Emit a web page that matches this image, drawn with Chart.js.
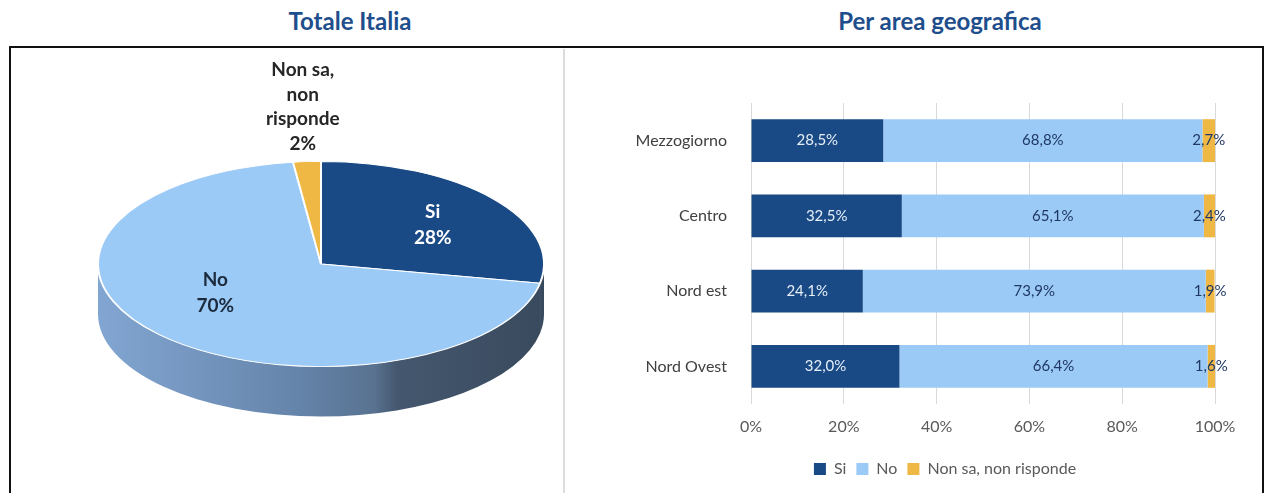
<!DOCTYPE html>
<html>
<head>
<meta charset="utf-8">
<script src="https://cdn.jsdelivr.net/npm/chart.js@4/dist/chart.umd.min.js"></script>
<style>
  body { margin: 0; background: #fff; font-family: Lato, sans-serif; }
  #page { position: relative; width: 1266px; height: 493px; overflow: hidden; }
  .title { position: absolute; top: 6px; width: 300px; text-align: center; font-weight: bold; font-size: 24px; color: #1f4e8c; }
  #frame { position: absolute; left: 9px; top: 46px; width: 1251px; height: 470px; border: 2px solid #111; }
  #divider { position: absolute; left: 563px; top: 49px; width: 2px; height: 444px; background: #dcdcdc; }
  #pieBox { position: absolute; left: 10px; top: 30px; width: 554px; height: 470px; }
  #barBox { position: absolute; left: 566px; top: 49px; width: 696px; height: 444px; }
</style>
</head>
<body>
<div id="page">
  <div class="title" style="left:200px">Totale Italia</div>
  <div class="title" style="left:790px">Per area geografica</div>
  <div id="frame"></div>
  <div id="divider"></div>
  <div id="pieBox"><canvas id="pieChart"></canvas></div>
  <div id="barBox"><canvas id="barChart"></canvas></div>
</div>
<script>
// Totale Italia
const pieLabels = ['Si', 'No', 'Non sa, non risponde'];
const pieLabelLines = [['Si'], ['No'], ['Non sa,', 'non', 'risponde']];
const pieValues = [28, 70, 2];

// Per area geografica
const areaLabels = ['Mezzogiorno', 'Centro', 'Nord est', 'Nord Ovest'];
const siValues = [28.5, 32.5, 24.1, 32.0];
const noValues = [68.8, 65.1, 73.9, 66.4];
const nonSaValues = [2.7, 2.4, 1.9, 1.6];
const xTicks = [0, 20, 40, 60, 80, 100];

const TILT = 0.46;
const DEPTH = 50;

// fake 3D: squash the pie vertically and draw a side band under the front half
const tiltPlugin = {
  id: 'tilt',
  beforeDatasetsDraw(chart) {
    const ctx = chart.ctx;
    const arcs = chart.getDatasetMeta(0).data;
    const cx = arcs[0].x, cy = arcs[0].y, r = arcs[0].outerRadius;
    const ry = r * TILT;

    const grad = ctx.createLinearGradient(cx - r, 0, cx + r, 0);
    grad.addColorStop(0, '#82a6d2');
    grad.addColorStop(0.45, '#6584aa');
    grad.addColorStop(0.62, '#587290');
    grad.addColorStop(0.67, '#45576e');
    grad.addColorStop(1, '#394a5e');

    ctx.save();
    arcs.forEach(a => {
      const s = Math.max(a.startAngle, 0);
      const e = Math.min(a.endAngle, Math.PI);
      if (e <= s) return;
      ctx.beginPath();
      ctx.ellipse(cx, cy, r, ry, 0, s, e);
      ctx.ellipse(cx, cy + DEPTH, r, ry, 0, e, s, true);
      ctx.closePath();
      ctx.fillStyle = grad;
      ctx.fill();
    });
    ctx.restore();

    ctx.save();
    ctx.translate(cx, cy);
    ctx.scale(1, TILT);
    ctx.translate(-cx, -cy);
  },
  afterDatasetsDraw(chart) {
    chart.ctx.restore();

    const ctx = chart.ctx;
    const arcs = chart.getDatasetMeta(0).data;
    ctx.save();
    ctx.font = 'bold 19px Lato';
    ctx.textAlign = 'center';
    ctx.textBaseline = 'middle';
    const lineH = 26;
    arcs.forEach((a, i) => {
      const mid = (a.startAngle + a.endAngle) / 2;
      const r = a.outerRadius;
      const lines = pieLabelLines[i].concat([pieValues[i] + '%']);
      if (pieValues[i] >= 10) {
        const x = a.x + Math.cos(mid) * r * 0.65;
        const y = a.y + Math.sin(mid) * r * 0.5 * TILT - 6;
        ctx.fillStyle = i === 0 ? '#ffffff' : '#1b2a3d';
        lines.forEach((t, k) => ctx.fillText(t, x, y + (k - (lines.length - 1) / 2) * lineH));
      } else {
        const x = a.x + Math.cos(mid) * r * 1.3;
        const yBottom = a.y - r * TILT - 18;
        ctx.fillStyle = '#262626';
        lines.forEach((t, k) => ctx.fillText(t, x, yBottom - (lines.length - 1 - k) * 24.5));
      }
    });
    ctx.restore();
  }
};

new Chart(document.getElementById('pieChart'), {
  type: 'pie',
  data: {
    labels: pieLabels,
    datasets: [{
      data: pieValues,
      backgroundColor: ['#194a85', '#9ccaf6', '#efb845'],
      borderColor: '#ffffff',
      borderWidth: 2
    }]
  },
  options: {
    responsive: true,
    maintainAspectRatio: false,
    animation: false,
    layout: { padding: { left: 87, right: 19, top: 10, bottom: 12 } },
    plugins: {
      legend: { display: false },
      tooltip: { enabled: false }
    }
  },
  plugins: [tiltPlugin]
});

const fmtPct = v => v.toFixed(1).replace('.', ',') + '%';

const barValueLabels = {
  id: 'barValueLabels',
  afterDatasetsDraw(chart) {
    const ctx = chart.ctx;
    ctx.save();
    ctx.font = '15px Lato';
    ctx.textAlign = 'center';
    ctx.textBaseline = 'middle';
    chart.data.datasets.forEach((ds, i) => {
      chart.getDatasetMeta(i).data.forEach((bar, j) => {
        const c = bar.getCenterPoint();
        ctx.fillStyle = i === 0 ? '#e6eef8' : '#1f3864';
        ctx.fillText(fmtPct(ds.data[j]), c.x, c.y);
      });
    });
    ctx.restore();
  }
};

new Chart(document.getElementById('barChart'), {
  type: 'bar',
  data: {
    labels: areaLabels,
    datasets: [
      { label: 'Si', data: siValues, backgroundColor: '#194a85' },
      { label: 'No', data: noValues, backgroundColor: '#9ccaf6' },
      { label: 'Non sa, non risponde', data: nonSaValues, backgroundColor: '#efb845' }
    ]
  },
  options: {
    indexAxis: 'y',
    responsive: true,
    maintainAspectRatio: false,
    animation: false,
    layout: { padding: { left: 62, right: 0, top: 54, bottom: 6 } },
    datasets: { bar: { barPercentage: 0.57, categoryPercentage: 1 } },
    scales: {
      x: {
        stacked: true,
        min: 0,
        max: 100,
        afterBuildTicks: scale => { scale.ticks = xTicks.map(v => ({ value: v })); },
        afterFit: scale => { scale.height = 47; },
        grid: { color: '#d9d9d9', drawTicks: false },
        border: { display: false },
        ticks: {
          padding: 13,
          color: '#595959',
          font: { family: 'Lato', size: 16 },
          callback: v => v + '%'
        }
      },
      y: {
        stacked: true,
        afterFit: scale => { scale.width = 123; },
        grid: { display: false },
        border: { display: false },
        ticks: {
          padding: 16,
          color: '#404040',
          font: { family: 'Lato', size: 16 }
        }
      },
      // empty right-hand gutter, keeps the legend centred like the original
      yRight: {
        position: 'right',
        afterFit: scale => { scale.width = 47; },
        grid: { display: false },
        border: { display: false },
        ticks: { display: false }
      }
    },
    plugins: {
      legend: {
        position: 'bottom',
        labels: {
          boxWidth: 12,
          boxHeight: 12,
          padding: 10,
          color: '#595959',
          font: { family: 'Lato', size: 16 }
        }
      },
      tooltip: { enabled: false }
    }
  },
  plugins: [barValueLabels]
});
</script>
</body>
</html>
